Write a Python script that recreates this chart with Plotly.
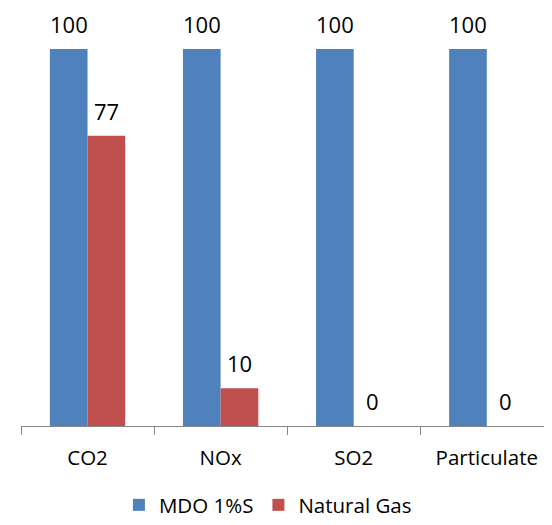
import plotly.graph_objects as go

categories = ["CO2", "NOx", "SO2", "Particulate"]
mdo_values = [100, 100, 100, 100]
gas_values = [77, 10, 0, 0]
series_names = ["MDO 1%S", "Natural Gas"]

BLUE = "#4F81BD"
RED = "#C0504D"
FONT = "Open Sans"

fig = go.Figure()
fig.add_trace(go.Bar(x=categories, y=mdo_values, name=series_names[0],
                     marker=dict(color=BLUE, line=dict(width=0))))
fig.add_trace(go.Bar(x=categories, y=gas_values, name=series_names[1],
                     marker=dict(color=RED, line=dict(width=0))))

annotations = []
for vals, shift in ((mdo_values, -19), (gas_values, 19)):
    for c, v in zip(categories, vals):
        annotations.append(dict(x=c, y=v, xref="x", yref="y", text=str(v),
                                showarrow=False, xshift=shift, yshift=8,
                                yanchor="bottom",
                                font=dict(family=FONT, size=22, color="#000000")))

# page has an 8px body margin, so the figure is offset by 8px in the window
fig.update_layout(
    width=552, height=525,
    margin=dict(l=13, r=8, t=41, b=107),
    paper_bgcolor="white", plot_bgcolor="white",
    barmode="group", bargap=0.434, bargroupgap=0,
    font=dict(family=FONT, size=20.5, color="#000000"),
    showlegend=True,
    legend=dict(orientation="h", x=0.465, xanchor="center", y=-0.2096, yanchor="middle",
                font=dict(family=FONT, size=20.5), itemwidth=30, traceorder="normal"),
    annotations=annotations,
)
fig.update_xaxes(range=[-0.5, 3.49], showline=True, linecolor="#868686", linewidth=1,
                 ticks="outside", tickson="boundaries", ticklen=8, tickcolor="#868686",
                 showgrid=False, tickfont=dict(family=FONT, size=20.5), ticklabelstandoff=13)
fig.update_yaxes(range=[0, 100], visible=False, showgrid=False)

fig.write_html("out.html")
